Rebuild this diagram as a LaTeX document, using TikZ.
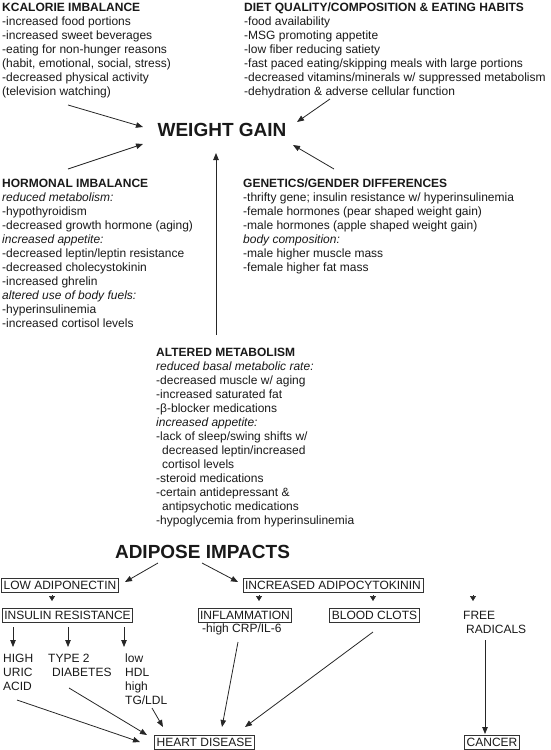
\documentclass[tikz,border=0pt]{standalone}
\usepackage{fontspec}
\setmainfont{Liberation Sans}
\usetikzlibrary{arrows.meta}
\newcommand\fsz{\fontsize{12}{14}\selectfont}
\newcommand\bigf{\fontsize{19}{22}\selectfont\bfseries}
\newcommand\st{\rule{0pt}{9pt}}
\tikzset{
  txt/.style={anchor=north west, inner sep=0pt, align=left, font=\fsz, text=black!90},
  boxed/.style={draw=black!80, line width=0.8pt, inner xsep=2pt, inner ysep=2.7pt,
                text height=8.6pt, text depth=0pt, font=\fsz, text=black!90},
  headline/.style={inner sep=0pt, font=\bigf, text=black!90},
  arr/.style={draw=black!85, line width=0.8pt, -{Triangle[length=7pt,width=5.5pt]}},
  tiponly/.style={draw=black!85, line width=0.5pt, -{Triangle[length=5pt,width=6pt]}},
}
\begin{document}
\begin{tikzpicture}[x=1pt,y=-1pt]
\useasboundingbox (0,0) rectangle (551,750);

% ---------- text blocks ----------
\node[txt] (kcal) at (2,2.3) {\st\textbf{KCALORIE IMBALANCE}\\
-increased food portions\\
-increased sweet beverages\\
-eating for non-hunger reasons\\
(habit, emotional, social, stress)\\
-decreased physical activity\\
(television watching)};

\node[txt] (diet) at (244,2.3) {\st\textbf{DIET QUALITY/COMPOSITION \& EATING HABITS}\\
-food availability\\
-MSG promoting appetite\\
-low fiber reducing satiety\\
-fast paced eating/skipping meals with large portions\\
-decreased vitamins/minerals w/ suppressed metabolism\\
-dehydration \& adverse cellular function};

\node[headline] (wg) at (222,130) {WEIGHT GAIN};

\node[txt] (horm) at (2,178.3) {\st\textbf{HORMONAL IMBALANCE}\\
\textit{reduced metabolism:}\\
-hypothyroidism\\
-decreased growth hormone (aging)\\
\textit{increased appetite:}\\
-decreased leptin/leptin resistance\\
-decreased cholecystokinin\\
-increased ghrelin\\
\textit{altered use of body fuels:}\\
-hyperinsulinemia\\
-increased cortisol levels};

\node[txt] (gen) at (243,178.3) {\st\textbf{GENETICS/GENDER DIFFERENCES}\\
-thrifty gene; insulin resistance w/ hyperinsulinemia\\
-female hormones (pear shaped weight gain)\\
-male hormones (apple shaped weight gain)\\
\textit{body composition:}\\
-male higher muscle mass\\
-female higher fat mass};

\node[txt] (alt) at (156,347.3) {\st\textbf{ALTERED METABOLISM}\\
\textit{reduced basal metabolic rate:}\\
-decreased muscle w/ aging\\
-increased saturated fat\\
-β-blocker medications\\
\textit{increased appetite:}\\
-lack of sleep/swing shifts w/\\
\hspace*{6pt}decreased leptin/increased\\
\hspace*{6pt}cortisol levels\\
-steroid medications\\
-certain antidepressant \&\\
\hspace*{6pt}antipsychotic medications\\
-hypoglycemia from hyperinsulinemia};

\node[headline] (adi) at (202.5,552) {ADIPOSE IMPACTS};

% ---------- boxes ----------
\node[boxed] (lowad) at (60,585) {LOW ADIPONECTIN};
\node[boxed] (insres) at (67.5,615) {INSULIN RESISTANCE};
\node[boxed] (incad) at (333,585) {INCREASED ADIPOCYTOKININ};
\node[boxed] (infl) at (245,615) {INFLAMMATION};
\node[boxed] (clots) at (374.5,615) {BLOOD CLOTS};
\node[boxed] (heart) at (204.5,742) {HEART DISEASE};
\node[boxed] (cancer) at (492,742) {CANCER};

\node[txt] (crp) at (202,623.3) {\st-high CRP/IL-6};
\node[txt] (free) at (463,610.3) {\st FREE\\\hspace*{3pt}RADICALS};
\node[txt] (uric) at (3,652.8) {\st HIGH\\URIC\\ACID};
\node[txt] (diab) at (48,652.8) {\st TYPE 2\\\hspace*{4pt}DIABETES};
\node[txt] (lipid) at (125,652.8) {\st low\\HDL\\high\\TG/LDL};

% ---------- connector end points ----------
\coordinate (kcalS) at (68,105);   \coordinate (wgA) at (143,127);
\coordinate (dietS) at (330,99);   \coordinate (wgB) at (297,122);
\coordinate (hormS) at (68,169);   \coordinate (wgC) at (143,144);
\coordinate (genS) at (334,169);   \coordinate (wgD) at (293,145);
\coordinate (altS) at (216,335);   \coordinate (wgE) at (216,153);
\coordinate (adiL) at (158,563);   \coordinate (lowadT) at (125,582);
\coordinate (adiR) at (202,563);   \coordinate (incadT) at (238,582);

\coordinate (uricS) at (17,700);   \coordinate (hA) at (140,742);
\coordinate (diabS) at (69,688);   \coordinate (hB) at (147,735);
\coordinate (lipS) at (152,708);   \coordinate (hC) at (163,727);
\coordinate (crpS) at (238,642);   \coordinate (hD) at (222,727);
\coordinate (clotS) at (373,632);  \coordinate (hE) at (245,727);
\coordinate (freeS) at (485,640);  \coordinate (cT) at (485,734);

% ---------- arrows to weight gain ----------
\draw[arr] (kcalS) -- (wgA);
\draw[arr] (dietS) -- (wgB);
\draw[arr] (hormS) -- (wgC);
\draw[arr] (genS) -- (wgD);
\draw[arr] (altS) -- (wgE);

% ---------- adipose ----------
\draw[arr] (adiL) -- (lowadT);
\draw[arr] (adiR) -- (incadT);

\draw[tiponly] (52,595) -- (52,601);
\draw[tiponly] (259,595) -- (259,601);
\draw[tiponly] (373,595) -- (373,601);
\draw[tiponly] (473,595) -- (473,601);

\draw[arr] (13,627) -- (13,647);
\draw[arr] (68,627) -- (68,647);
\draw[arr] (124,627) -- (124,647);

\draw[arr] (uricS) -- (hA);
\draw[arr] (diabS) -- (hB);
\draw[arr] (lipS) -- (hC);
\draw[arr] (crpS) -- (hD);
\draw[arr] (clotS) -- (hE);
\draw[arr] (freeS) -- (cT);
\end{tikzpicture}
\end{document}
